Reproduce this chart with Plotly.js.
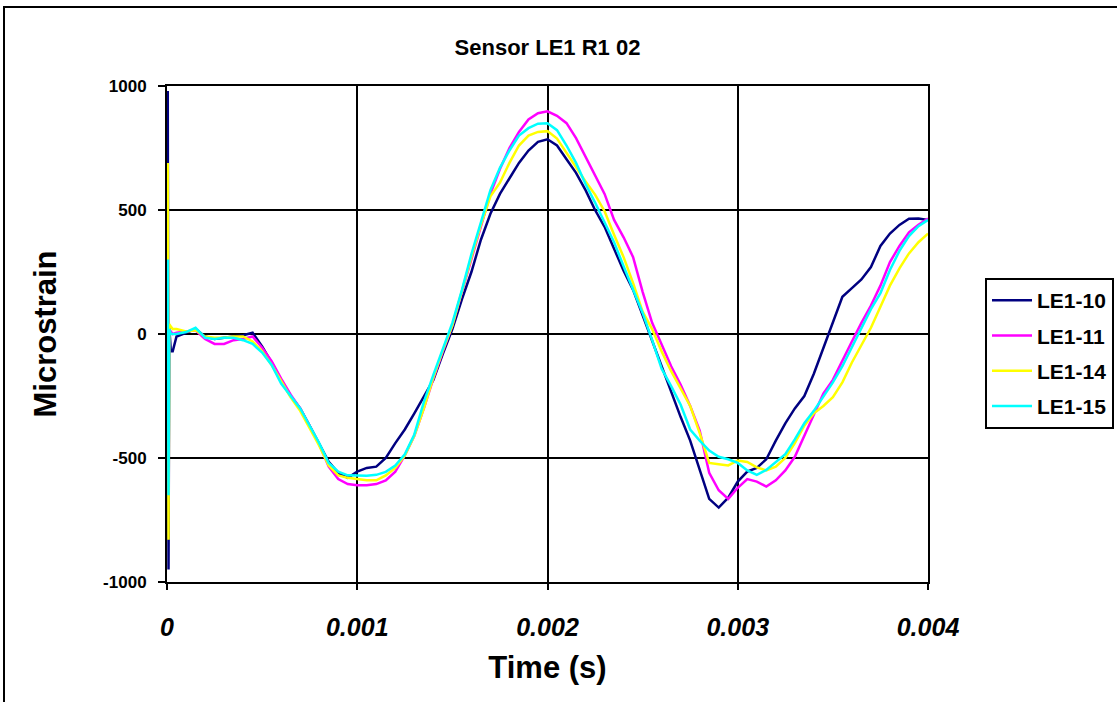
<!DOCTYPE html>
<html>
<head>
<meta charset="utf-8">
<script src="https://cdn.plot.ly/plotly-3.0.1.min.js"></script>
<style>
  html, body { margin: 0; padding: 0; background: #ffffff; }
  #chart { width: 1117px; height: 702px; }
</style>
</head>
<body>
<div id="chart"></div>
<script>
// ---- Data ----
const seriesNames = ["LE1-10", "LE1-11", "LE1-14", "LE1-15"];
const seriesColors = ["#000080", "#FF00FF", "#FFFF00", "#00FFFF"];

const time = [0, 0.000004, 0.000008, 0.000012, 0.00002, 0.00003,
  0.00005, 0.0001, 0.00015, 0.0002, 0.00025, 0.0003, 0.00035, 0.0004, 0.00045, 0.0005,
  0.00055, 0.0006, 0.00065, 0.0007, 0.00075, 0.0008, 0.00085, 0.0009, 0.00095, 0.001,
  0.00105, 0.0011, 0.00115, 0.0012, 0.00125, 0.0013, 0.00135, 0.0014, 0.00145, 0.0015,
  0.00155, 0.0016, 0.00165, 0.0017, 0.00175, 0.0018, 0.00185, 0.0019, 0.00195, 0.002,
  0.00205, 0.0021, 0.00215, 0.0022, 0.00225, 0.0023, 0.00235, 0.0024, 0.00245, 0.0025,
  0.00255, 0.0026, 0.00265, 0.0027, 0.00275, 0.0028, 0.00285, 0.0029, 0.00295, 0.003,
  0.00305, 0.0031, 0.00315, 0.0032, 0.00325, 0.0033, 0.00335, 0.0034, 0.00345, 0.0035,
  0.00355, 0.0036, 0.00365, 0.0037, 0.00375, 0.0038, 0.00385, 0.0039, 0.00395, 0.004];

const le110 = [0, 980, -950, 30, -70, -70,
  -10, 5, 20, -10, -20, -15, -10, -5, 5, -50,
  -115, -190, -250, -300, -370, -440, -515, -560, -580, -555,
  -540, -535, -500, -440, -385, -320, -250, -185, -80, 20,
  140, 250, 380, 485, 565, 625, 690, 740, 775, 785,
  760, 705, 650, 580, 500, 432, 345, 255, 178, 75,
  -25, -135, -235, -335, -430, -545, -665, -700, -660, -595,
  -555, -540, -505, -430, -360, -300, -250, -160, -55, 50,
  150, 185, 220, 270, 355, 405, 440, 465, 466, 460];

const le111 = [0, 250, -400, 20, 10, 0,
  5, 10, 15, -20, -40, -40, -25, -20, -10, -55,
  -110, -180, -245, -300, -370, -445, -535, -585, -605, -610,
  -610, -605, -590, -555, -490, -410, -300, -180, -70, 35,
  170, 305, 440, 565, 665, 750, 815, 865, 890, 898,
  880, 850, 790, 715, 640, 565, 460, 390, 310, 170,
  45, -45, -130, -205, -290, -390, -560, -630, -665, -620,
  -585, -595, -615, -590, -550, -495, -410, -330, -240, -185,
  -105, -30, 45, 115, 195, 290, 355, 410, 440, 466];

const le114 = [0, 690, -830, 40, 30, 20,
  20, 10, 15, -10, -15, -15, -10, -10, -30, -70,
  -125, -190, -255, -310, -380, -450, -530, -570, -580, -585,
  -590, -590, -570, -540, -490, -410, -300, -175, -65, 35,
  175, 310, 440, 555, 610, 690, 760, 800, 815, 818,
  788, 730, 672, 615, 562, 495, 400, 310, 205, 90,
  20, -70, -150, -220, -290, -400, -520, -525, -530, -510,
  -516, -538, -550, -535, -500, -440, -370, -320, -290, -255,
  -195, -115, -45, 25, 110, 195, 265, 325, 370, 405];

const le115 = [0, 300, -650, 20, 0, 0,
  0, 8, 25, -15, -20, -15, -15, -25, -40, -75,
  -125, -200, -250, -300, -370, -440, -520, -555, -570, -570,
  -572, -568, -556, -530, -485, -405, -275, -165, -60, 45,
  177, 322, 450, 580, 670, 740, 800, 830, 848, 850,
  822, 760, 690, 605, 530, 450, 370, 273, 175, 85,
  -25, -140, -210, -285, -385, -430, -470, -495, -505, -520,
  -550, -568, -548, -515, -485, -425, -360, -310, -255, -195,
  -130, -52, 25, 100, 165, 258, 335, 395, 435, 460];

const seriesValues = [le110, le111, le114, le115];

const xTickVals = [0, 0.001, 0.002, 0.003, 0.004];
const xTickText = ["0", "0.001", "0.002", "0.003", "0.004"];
const yTickVals = [-1000, -500, 0, 500, 1000];
const yTickText = ["-1000", "-500", "0", "500", "1000"];

const chartTitle = "Sensor LE1 R1 02";
const xTitle = "Time (s)";
const yTitle = "Microstrain";

// ---- Figure ----
const FONT = "Liberation Sans, Arial, Helvetica, sans-serif";

const traces = seriesNames.map((name, i) => ({
  type: "scatter",
  mode: "lines",
  name: name,
  x: time,
  y: seriesValues[i],
  line: { color: seriesColors[i], width: 2.5 },
  legendgroup: "g" + i,
  hoverinfo: "skip"
}));

const layout = {
  width: 1117,
  height: 702,
  margin: { l: 167, r: 189, t: 86, b: 120, pad: 0 },
  paper_bgcolor: "#ffffff",
  plot_bgcolor: "#ffffff",
  font: { family: FONT, color: "#000000" },
  showlegend: true,
  title: {
    text: chartTitle,
    font: { family: FONT, size: 22, weight: "bold", color: "#000000" },
    xref: "paper", x: 0.5, xanchor: "center",
    yref: "container", y: 1 - 47 / 702, yanchor: "middle"
  },
  xaxis: {
    range: [0, 0.004],
    tickvals: xTickVals,
    ticktext: xTickText,
    showgrid: true, gridcolor: "#000000", gridwidth: 2,
    zeroline: false,
    showline: true, linecolor: "#000000", linewidth: 2, mirror: true,
    ticks: "outside", ticklen: 6, tickwidth: 2, tickcolor: "#000000",
    ticklabelstandoff: 16,
    tickfont: { family: FONT, size: 25, weight: "bold", style: "italic", color: "#000000" },
    title: { text: xTitle, font: { family: FONT, size: 31, weight: "bold", color: "#000000" }, standoff: 16 },
    fixedrange: true
  },
  yaxis: {
    range: [-1000, 1000],
    tickvals: yTickVals,
    ticktext: yTickText,
    showgrid: true, gridcolor: "#000000", gridwidth: 2,
    zeroline: false,
    showline: true, linecolor: "#000000", linewidth: 2, mirror: true,
    ticks: "outside", ticklen: 7, tickwidth: 2, tickcolor: "#000000",
    ticklabelstandoff: 8,
    tickfont: { family: FONT, size: 17, weight: "bold", color: "#000000" },
    title: { text: yTitle, font: { family: FONT, size: 31, weight: "bold", color: "#000000" }, standoff: 37 },
    fixedrange: true
  },
  legend: {
    xref: "container", x: 985 / 1117, xanchor: "left",
    yref: "container", y: 1 - 278 / 702, yanchor: "top",
    bgcolor: "#ffffff",
    bordercolor: "#000000", borderwidth: 2,
    font: { family: FONT, size: 21, weight: "bold", color: "#000000" },
    traceorder: "grouped",
    tracegroupgap: 5,
    itemwidth: 40
  },
  shapes: [{
    type: "rect", xref: "paper", yref: "paper",
    x0: (4 - 167) / 761, x1: 1.4,
    y0: -0.5, y1: 1 + (86 - 7) / 496,
    line: { color: "#000000", width: 2 },
    fillcolor: "rgba(0,0,0,0)",
    layer: "below"
  }]
};

Plotly.newPlot("chart", traces, layout, { displayModeBar: false, staticPlot: true });
</script>
</body>
</html>
